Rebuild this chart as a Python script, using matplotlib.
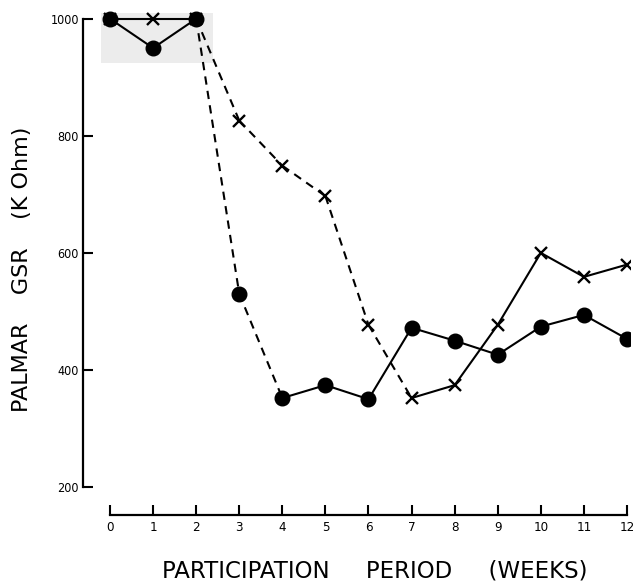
import matplotlib.pyplot as plt
from matplotlib.patches import Rectangle

plt.rcParams.update({"font.family": ["DejaVu Sans"]})

weeks = [0, 1, 2, 3, 4, 5, 6, 7, 8, 9, 10, 11, 12]
gsr_circle = [1000, 950, 1000, 530, 352, 374, 350, 472, 450, 426, 474, 494, 453]
gsr_cross = [1000, 1000, 1000, 826, 749, 697, 477, 352, 374, 477, 600, 559, 580]

# segments (start index) drawn dashed
circle_dashed = [2, 3]
cross_dashed = [2, 3, 4, 5, 6]

y_ticks = [200, 400, 600, 800, 1000]
x_ticks = weeks

fig = plt.figure(figsize=(6.37, 5.84), dpi=100)
ax = fig.add_axes([83 / 637, 1 - 520 / 584, 547 / 637, 510 / 584])

ax.set_xlim(-0.627, 12.07)
ax.set_ylim(143.6, 1015)

# faint scan patch around the first weeks
ax.add_patch(Rectangle((-0.2, 925), 2.6, 85, color="#ececec", lw=0, zorder=0))


def draw_series(xs, ys, dashed, marker, ms, mew):
    for i in range(len(xs) - 1):
        ls = (0, (4, 3)) if i in dashed else "-"
        ax.plot(xs[i:i + 2], ys[i:i + 2], color="black", lw=1.5, linestyle=ls,
                zorder=2)
    ax.plot(xs, ys, linestyle="none", marker=marker, ms=ms, mew=mew,
            color="black", zorder=3)


draw_series(weeks, gsr_circle, circle_dashed, "o", 10.5, 1)
draw_series(weeks, gsr_cross, cross_dashed, "x", 8, 1.7)

for s in ["top", "right"]:
    ax.spines[s].set_visible(False)
ax.spines["left"].set_bounds(200, 1000)
ax.spines["left"].set_linewidth(1.6)
ax.spines["bottom"].set_position(("data", 152))
ax.spines["bottom"].set_bounds(0, 12)
ax.spines["bottom"].set_linewidth(1.6)

ax.set_yticks(y_ticks)
ax.set_yticklabels([str(v) for v in y_ticks], fontsize=9, family="DejaVu Sans",
                   stretch="condensed")
ax.set_xticks(x_ticks)
ax.set_xticklabels([str(v) for v in x_ticks], fontsize=9.5, family="DejaVu Sans",
                   stretch="condensed")
ax.tick_params(axis="y", direction="in", length=7, width=1.5, pad=3)
ax.tick_params(axis="x", direction="in", length=7, width=1.5, pad=4)

fig.text(0.034, 0.538, "PALMAR    GSR    (K Ohm)", rotation=90, ha="center",
         va="center", fontsize=16)
fig.text(0.589, 0.022, "PARTICIPATION     PERIOD     (WEEKS)", ha="center",
         va="center", fontsize=16.5)

fig.savefig("out.png", dpi=100)
